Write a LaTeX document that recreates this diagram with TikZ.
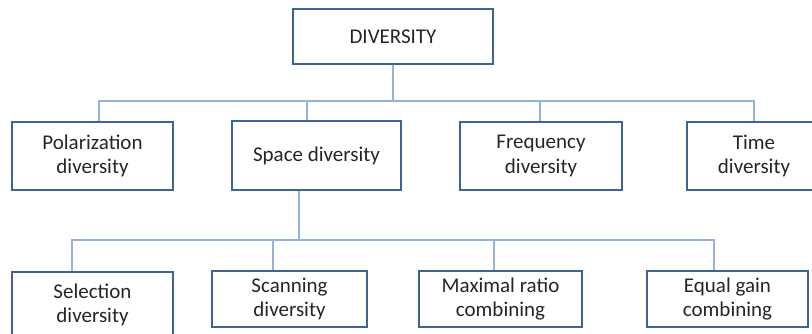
\documentclass[tikz,border=0pt]{standalone}
\usepackage{fontspec}
\setmainfont{Carlito}
\usetikzlibrary{calc}
\definecolor{boxline}{HTML}{3E6496}
\definecolor{connline}{HTML}{95B3D7}
\begin{document}
\begin{tikzpicture}[x=0.75pt,y=-0.75pt,
  box/.style={draw=boxline,line width=1.8pt,fill=white,inner sep=0pt,align=center,
    font=\fontsize{15.75}{18.5}\selectfont,text=black!85},
  conn/.style={draw=connline,line width=1.1pt}]
\useasboundingbox (0,0) rectangle (812,334);
\clip (0,0) rectangle (812,334);
% level 0
\node[box,minimum width=150pt,minimum height=41.25pt] (root) at (393,36.5) {DIVERSITY};
% level 1
\node[box,minimum width=120.75pt,minimum height=51pt] (pol) at (92.5,156) {Polarization\\diversity};
\node[box,minimum width=126.75pt,minimum height=51.75pt] (space) at (316.5,155.5) {Space diversity};
\node[box,minimum width=121.5pt,minimum height=51pt] (freq) at (541,156) {Frequency\\diversity};
\node[box,minimum width=100.5pt,minimum height=51pt] (time) at (754,156) {Time\\diversity};
% level 2
\node[box,minimum width=120.75pt,minimum height=49.5pt] (sel) at (92.5,305) {Selection\\diversity};
\node[box,minimum width=116.25pt,minimum height=42pt] (scan) at (289.5,299) {Scanning\\diversity};
\node[box,minimum width=122.25pt,minimum height=42pt] (max) at (500.5,299) {Maximal ratio\\combining};
\node[box,minimum width=120.75pt,minimum height=42pt] (equal) at (727.5,299) {Equal gain\\combining};
% connectors level 0 -> 1
\coordinate (j1) at ($(root.south)+(0,36)$);
\draw[conn] (root.south) -- (j1);
\draw[conn] (j1) -| ($(pol.north)+(6.5,0)$);
\draw[conn] (j1) -| ($(space.north)+(-9.5,0)$);
\draw[conn] (j1) -| ($(freq.north)+(-1,0)$);
\draw[conn] (j1) -| (time.north);
% connectors level 1 -> 2
\coordinate (j2) at ($(space.south)+(-17.5,49)$);
\draw[conn] (space.south -| j2) -- (j2);
\draw[conn] (j2) -| ($(sel.north)+(-20.5,0)$);
\draw[conn] (j2) -| ($(scan.north)+(-16.5,0)$);
\draw[conn] (j2) -| ($(max.north)+(-6.5,0)$);
\draw[conn] (j2) -| ($(equal.north)+(-13.5,0)$);
\end{tikzpicture}
\end{document}
